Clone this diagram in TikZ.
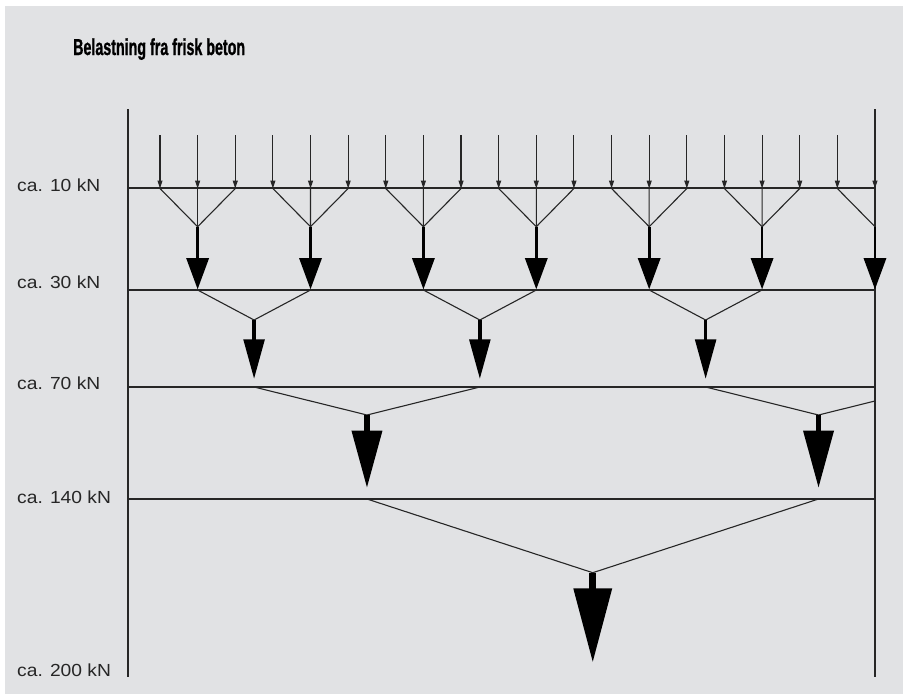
\documentclass[tikz,border=0pt]{standalone}
\usepackage{fontspec}
\setmainfont{Liberation Sans}
\newfontfamily\titlefont{Liberation Sans Bold}[FakeStretch=0.62,FakeBold=1]
\newfontfamily\labelfont{Liberation Sans}[FakeStretch=1.1]
\usetikzlibrary{calc,arrows.meta}
\definecolor{bgcol}{RGB}{225,226,228}
\definecolor{linecol}{RGB}{38,38,38}
\newcommand\loadarrow[5]{%
  \draw[line width=#5pt, draw=black] (#1) -- ($(#1)+(0,#2+0.5)$);
  \fill[black] ($(#1)+(-#4/2,#2)$) -- ($(#1)+(#4/2,#2)$) -- ($(#1)+(0,#2+#3)$) -- cycle;}
\begin{document}
\begin{tikzpicture}[x=1pt,y=-1pt,
  thinline/.style={draw=linecol, line width=1.1pt},
  smallarrow/.style={draw=linecol, line width=1.1pt, -{Triangle[length=8pt,width=5pt]}},
  lab/.style={anchor=base west, inner sep=0pt, font=\labelfont\fontsize{17.5}{20}\selectfont, text=black!85}]
\useasboundingbox (0,0) rectangle (903,694);
\fill[bgcol] (5,6) rectangle (903,694);
% title
\node[anchor=base west, inner sep=0pt, font=\titlefont\fontsize{23}{27}\selectfont] (title) at (73,55) {Belastning fra frisk beton};
% frame
\coordinate (vl1) at (128,109); \coordinate (vl2) at (128,677);
\coordinate (vr1) at (874.97,109); \coordinate (vr2) at (874.97,677);
\draw[thinline] (vl1) -- (vl2);
\draw[thinline] (vr1) -- (vr2);
\foreach \n/\y in {1/188,2/290,3/387,4/499}{
  \coordinate (hl\n) at (128,\y); \coordinate (hr\n) at (874.97,\y);
  \draw[thinline] (hl\n) -- (hr\n);
}
% labels
\node[lab] (l10) at (17,191.7) {ca. 10 kN};
\node[lab] (l30) at (17,288.3) {ca. 30 kN};
\node[lab] (l70) at (17,389.3) {ca. 70 kN};
\node[lab] (l140) at (17,503.3) {ca. 140 kN};
\node[lab] (l200) at (17,676) {ca. 200 kN};
% top loads
\foreach \i in {0,...,19}{
  \pgfmathsetmacro\xx{160+37.63*\i}
  \coordinate (p\i) at (\xx,188.5);
  \coordinate (q\i) at (\xx,135);
  \draw[smallarrow] (q\i) -- (p\i);
}
% level 1
\foreach \k in {0,...,6}{
  \pgfmathsetmacro\cx{197.63+112.89*\k}
  \coordinate (A\k) at (\cx,226.7);
  \coordinate (B\k) at (\cx,290);
}
\foreach \k [evaluate=\k as \l using int(3*\k), evaluate=\k as \m using int(3*\k+1), evaluate=\k as \r using int(3*\k+2)] in {0,...,5}{
  \draw[thinline] (p\l) -- (A\k) -- (p\r);
  \draw[thinline] (p\m) -- (A\k);
}
\draw[thinline] (p18) -- (A6);
\foreach \k in {0,...,6}{\loadarrow{A\k}{31.3}{31.2}{23}{2.7}}
% level 2
\foreach \j in {0,1,2}{
  \pgfmathsetmacro\dd{254.08+225.78*\j}
  \coordinate (C\j) at (\dd,320);
  \coordinate (D\j) at (\dd,387);
}
\foreach \j [evaluate=\j as \a using int(2*\j), evaluate=\j as \b using int(2*\j+1)] in {0,1,2}{
  \draw[thinline] (B\a) -- (C\j) -- (B\b);
  \loadarrow{C\j}{19.3}{39.2}{21.7}{3.3}
}
% level 3
\coordinate (E0) at (366.97,415);
\coordinate (E1) at (818.53,415);
\coordinate (D3v) at (931.42,387);
\coordinate (R3) at ($(E1)!0.5!(D3v)$);
\draw[thinline] (D0) -- (E0) -- (D1);
\draw[thinline] (D2) -- (E1) -- (R3);
\loadarrow{E0}{15.7}{56.6}{31}{5.7}
\loadarrow{E1}{15.7}{56.6}{31}{5.7}
% level 4
\coordinate (F0) at (366.97,499);
\coordinate (F1) at (818.53,499);
\coordinate (G) at (592.75,572.7);
\draw[thinline] (F0) -- (G) -- (F1);
\loadarrow{G}{15.6}{73.4}{39}{6.7}
\end{tikzpicture}
\end{document}
